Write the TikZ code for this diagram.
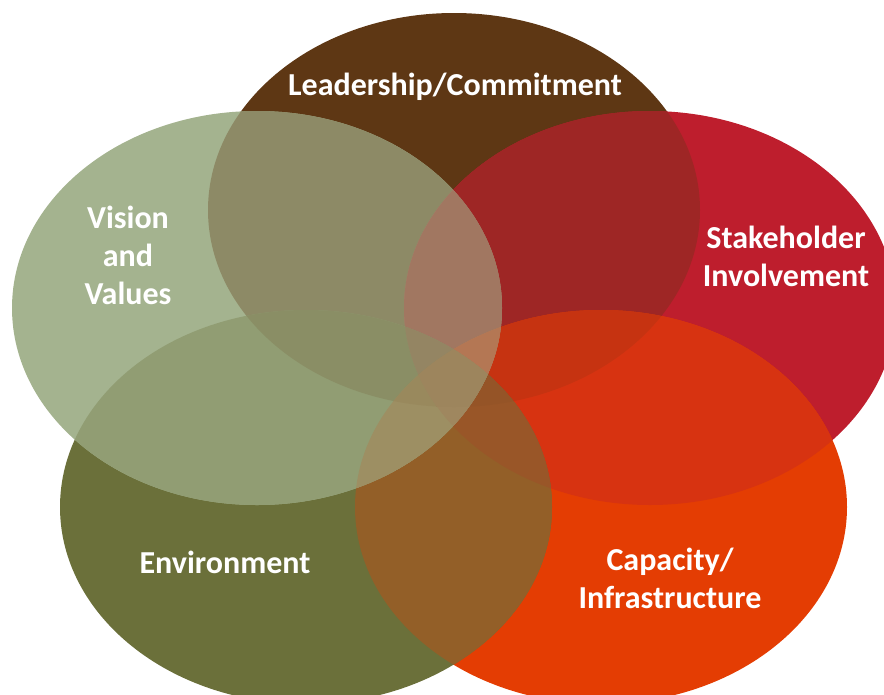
\documentclass[tikz,border=0pt]{standalone}
\usepackage{fontspec}
\setmainfont{Carlito}
\definecolor{cL}{RGB}{94,55,20}
\definecolor{cS}{RGB}{190,30,45}
\definecolor{cC}{RGB}{228,61,3}
\definecolor{cE}{RGB}{107,112,58}
\definecolor{cV}{RGB}{164,179,143}
\tikzset{
  eL/.style={insert path={(454,210) ellipse [x radius=246pt, y radius=197pt]}},
  eS/.style={insert path={(650,308) ellipse [x radius=246pt, y radius=197pt]}},
  eC/.style={insert path={(601,507) ellipse [x radius=246pt, y radius=197pt]}},
  eE/.style={insert path={(306,507) ellipse [x radius=246pt, y radius=197pt]}},
  eV/.style={insert path={(257,308) ellipse [x radius=245pt, y radius=197pt]}},
  lbl/.style={text=white, font=\bfseries\fontsize{32}{38}\selectfont, align=center, inner sep=0pt}
}
\newcommand\ovltwo[3]{\begin{scope}\clip[#1];\fill[#2,fill=#3];\end{scope}}
\newcommand\ovlthree[4]{\begin{scope}\clip[#1];\clip[#2];\fill[#3,fill=#4];\end{scope}}
\newcommand\ovlfour[5]{\begin{scope}\clip[#1];\clip[#2];\clip[#3];\fill[#4,fill=#5];\end{scope}}
\begin{document}
\begin{tikzpicture}[x=1pt,y=-1pt]
\useasboundingbox (0,0) rectangle (884,694);
\clip (0,0) rectangle (884,694);
% single ellipses (drawing order L, S, C, E, V)
\fill[eL,fill=cL];
\fill[eS,fill=cS];
\fill[eC,fill=cC];
\fill[eE,fill=cE];
\fill[eV,fill=cV];
% pairs
\ovltwo{eL}{eS}{cS!66.67!cL}
\ovltwo{eL}{eC}{cC!66.67!cL}
\ovltwo{eL}{eE}{cE!66.67!cL}
\ovltwo{eL}{eV}{cV!66.67!cL}
\ovltwo{eS}{eC}{cC!66.67!cS}
\ovltwo{eS}{eE}{cE!66.67!cS}
\ovltwo{eS}{eV}{cV!66.67!cS}
\ovltwo{eC}{eE}{cE!66.67!cC}
\ovltwo{eC}{eV}{cV!66.67!cC}
\ovltwo{eE}{eV}{cV!66.67!cE}
% triples
\ovlthree{eL}{eS}{eC}{cC!66.67!cS!85.71!cL}
\ovlthree{eL}{eS}{eE}{cE!66.67!cS!85.71!cL}
\ovlthree{eL}{eS}{eV}{cV!66.67!cS!85.71!cL}
\ovlthree{eL}{eC}{eE}{cE!66.67!cC!85.71!cL}
\ovlthree{eL}{eC}{eV}{cV!66.67!cC!85.71!cL}
\ovlthree{eL}{eE}{eV}{cV!66.67!cE!85.71!cL}
\ovlthree{eS}{eC}{eE}{cE!66.67!cC!85.71!cS}
\ovlthree{eS}{eC}{eV}{cV!66.67!cC!85.71!cS}
\ovlthree{eS}{eE}{eV}{cV!66.67!cE!85.71!cS}
\ovlthree{eC}{eE}{eV}{cV!66.67!cE!85.71!cC}
% quadruples
\ovlfour{eL}{eS}{eC}{eE}{cE!66.67!cC!85.71!cS!93.33!cL}
\ovlfour{eL}{eS}{eC}{eV}{cV!66.67!cC!85.71!cS!93.33!cL}
\ovlfour{eL}{eS}{eE}{eV}{cV!66.67!cE!85.71!cS!93.33!cL}
\ovlfour{eL}{eC}{eE}{eV}{cV!66.67!cE!85.71!cC!93.33!cL}
\ovlfour{eS}{eC}{eE}{eV}{cV!66.67!cE!85.71!cC!93.33!cS}
% all five
\begin{scope}\clip[eL];\clip[eS];\clip[eC];\clip[eE];\fill[eV,fill=cV!66.67!cE!85.71!cC!93.33!cS!96.77!cL];\end{scope}
% labels
\node[lbl] (tL) at (455,87) {Leadership/Commitment};
\node[lbl] (tS) at (786,256) {Stakeholder\\Involvement};
\node[lbl] (tV) at (128,255) {Vision\\and\\Values};
\node[lbl] (tE) at (225,562) {Environment};
\node[lbl] (tC) at (670,578) {Capacity/\\Infrastructure};
\end{tikzpicture}
\end{document}
